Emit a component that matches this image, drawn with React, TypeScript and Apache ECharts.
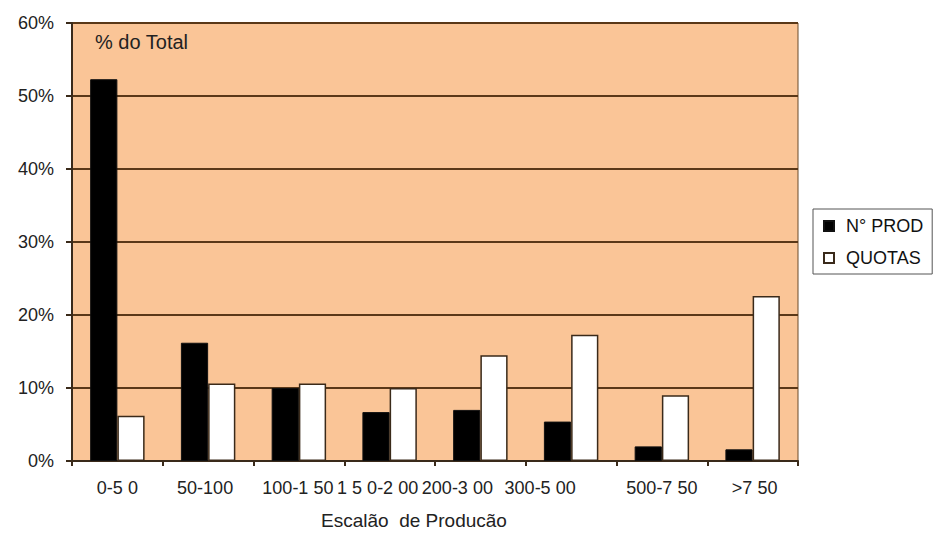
import React, { useEffect, useRef } from "react";
import * as echarts from "echarts";

const categories = ["0-5 0", "50-100", "100-1 50", "1 5 0-2 00", "200-3 00", "300-5 00", "500-7 50", ">7 50"];
// horizontal nudge (px, leftwards) of each category label
const labelShift = [0, 3, 1, 12, 23, 31, 0, -2];
const nProd = [52.3, 16.2, 10.0, 6.7, 7.0, 5.4, 2.0, 1.6];
const quotas = [6.2, 10.6, 10.6, 10.0, 14.5, 17.3, 9.0, 22.6];
const yTicks = [0, 10, 20, 30, 40, 50, 60];

const FONT = "'Liberation Sans', Arial, sans-serif";

export default function App() {
  const ref = useRef<HTMLDivElement>(null);

  useEffect(() => {
    if (!ref.current) return;
    const chart = echarts.init(ref.current, undefined, { renderer: "svg" });
    chart.setOption({
      animation: false,
      backgroundColor: "#ffffff",
      textStyle: { fontFamily: FONT },
      grid: {
        left: 72,
        top: 23,
        width: 726,
        height: 438,
        show: true,
        backgroundColor: "#FAC597",
        borderColor: "#6b4a2a",
        borderWidth: 1,
      },
      legend: {
        orient: "vertical",
        left: 813,
        top: 209,
        itemWidth: 10,
        itemHeight: 10,
        itemGap: 14,
        padding: [8, 9, 7, 10],
        borderColor: "#555",
        borderWidth: 1,
        backgroundColor: "#ffffff",
        textStyle: { fontFamily: FONT, fontSize: 18, color: "#111", padding: [0, 0, 0, 7] },
        data: [
          { name: "N° PROD", icon: "rect" },
          { name: "QUOTAS", icon: "rect" },
        ],
      },
      xAxis: {
        type: "category",
        data: categories.map((c, i) => ({
          value: c,
          textStyle: { padding: [0, Math.max(0, labelShift[i] * 2), 0, Math.max(0, -labelShift[i] * 2)] },
        })),
        boundaryGap: true,
        axisLine: { show: true, lineStyle: { color: "#3a2a1a", width: 2 } },
        axisTick: { show: true, inside: false, length: 5, lineStyle: { color: "#3a2a1a", width: 2 } },
        axisLabel: { interval: 0, hideOverlap: false, fontFamily: FONT, fontSize: 18, color: "#222", margin: 18 },
        splitLine: { show: false },
      },
      yAxis: {
        type: "value",
        min: 0,
        max: 60,
        interval: 10,
        axisLine: { show: true, lineStyle: { color: "#3a2a1a", width: 2 } },
        axisTick: { show: true, length: 6, lineStyle: { color: "#3a2a1a", width: 2 } },
        axisLabel: {
          fontFamily: FONT,
          fontSize: 18,
          color: "#222",
          margin: 18,
          formatter: (v: number) => (yTicks.includes(v) ? `${v}%` : ""),
        },
        splitLine: { show: true, lineStyle: { color: "#5a3818", width: 2 } },
      },
      series: [
        {
          name: "N° PROD",
          type: "bar",
          data: nProd,
          barGap: "0%",
          barCategoryGap: "40%",
          itemStyle: { color: "#000000", borderColor: "#111", borderWidth: 1 },
        },
        {
          name: "QUOTAS",
          type: "bar",
          data: quotas,
          barGap: "0%",
          barCategoryGap: "40%",
          itemStyle: { color: "#ffffff", borderColor: "#3a2a1a", borderWidth: 1.5 },
        },
      ],
      graphic: [
        {
          type: "text",
          left: 95,
          top: 32,
          style: { text: "% do Total", fontFamily: FONT, fontSize: 20, fill: "#222" },
        },
        {
          type: "text",
          left: 321,
          top: 511,
          style: { text: "Escalão  de Producão", fontFamily: FONT, fontSize: 19, fill: "#222" },
        },
      ],
    });
    return () => chart.dispose();
  }, []);

  return <div ref={ref} style={{ width: 938, height: 538, position: "absolute", left: 0, top: 0 }} />;
}
